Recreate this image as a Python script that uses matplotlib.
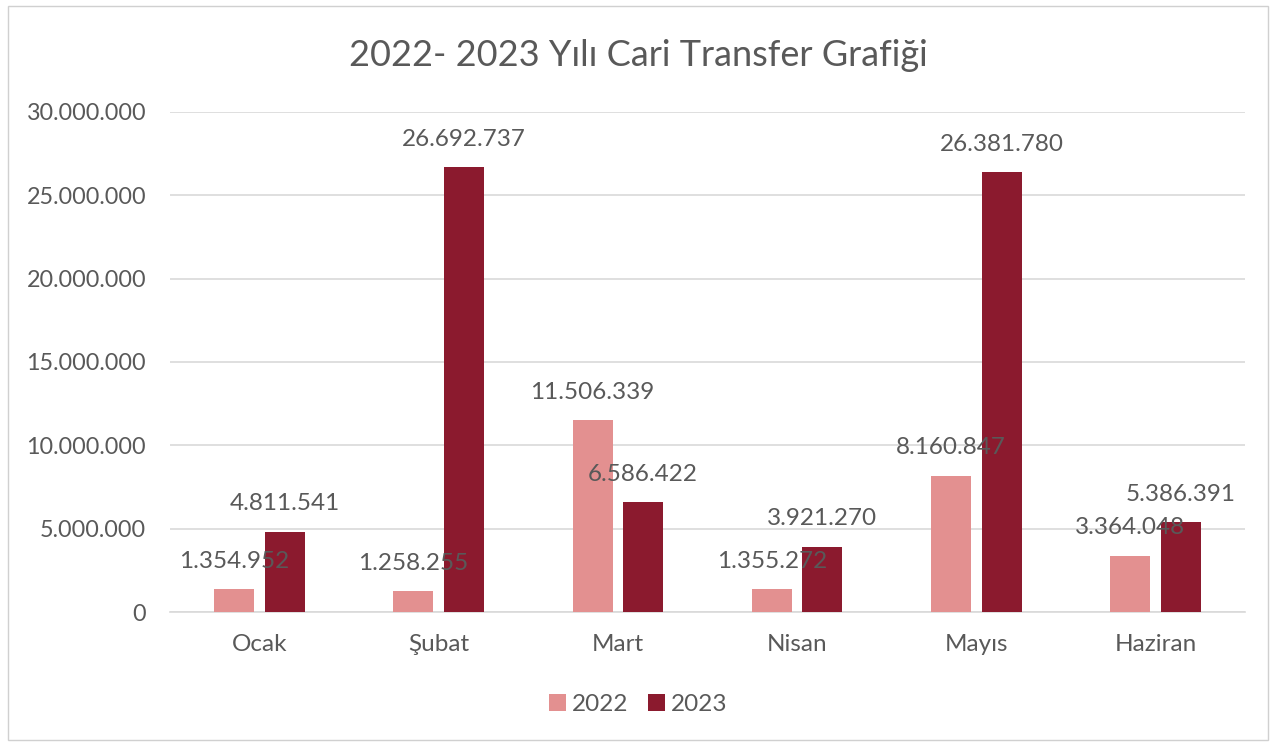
import matplotlib
matplotlib.use("Agg")
import matplotlib.pyplot as plt
import numpy as np
from matplotlib.patches import Rectangle

categories = ["Ocak", "Şubat", "Mart", "Nisan", "Mayıs", "Haziran"]
values_2022 = [1354952, 1258255, 11506339, 1355272, 8160847, 3364048]
values_2023 = [4811541, 26692737, 6586422, 3921270, 26381780, 5386391]
series_names = ["2022", "2023"]
yticks = [0, 5000000, 10000000, 15000000, 20000000, 25000000, 30000000]

c2022 = "#E39090"
c2023 = "#8B1A2E"
txt = "#595959"

plt.rcParams['font.family'] = ['Lato', 'DejaVu Sans']

def fmt(v):
    return f"{v:,}".replace(",", ".")

fig = plt.figure(figsize=(12.76, 7.46), dpi=100)
ax = fig.add_axes([0.133, 0.1796, 0.843, 0.6703])

x = np.arange(len(categories))
w = 0.223
off = 0.141
b1 = ax.bar(x - off, values_2022, w, color=c2022, label=series_names[0], zorder=3)
b2 = ax.bar(x + off, values_2023, w, color=c2023, label=series_names[1], zorder=3)

for bars, vals in ((b1, values_2022), (b2, values_2023)):
    for r, v in zip(bars, vals):
        ax.annotate(fmt(v), (r.get_x() + r.get_width() / 2, v), xytext=(0, 28),
                    textcoords="offset pixels", ha="center", va="center",
                    fontsize=17.5, color=txt, zorder=4)

ax.set_xlim(-0.5, len(categories) - 0.5)
ax.set_ylim(0, 30000000)
ax.set_yticks(yticks)
ax.set_yticklabels([fmt(v) for v in yticks], fontsize=16.8, color=txt)
ax.set_xticks(x)
ax.set_xticklabels(categories, fontsize=17.5, color=txt)
ax.tick_params(axis='x', length=0, pad=16)
ax.tick_params(axis='y', length=0, pad=17)
ax.grid(axis='y', color="#D9D9D9", linewidth=1.2, zorder=0)
for s in ["top", "right", "left"]:
    ax.spines[s].set_visible(False)
ax.spines["bottom"].set_color("#D9D9D9")
ax.spines["bottom"].set_linewidth(1.2)

fig.text(0.5, 0.925, "2022- 2023 Yılı Cari Transfer Grafiği", ha="center", va="center",
         fontsize=26, color=txt)

fig.legend(loc="center", bbox_to_anchor=(0.5, 0.055), ncol=2, frameon=False,
           fontsize=17.5, labelcolor=txt, handlelength=0.7, handleheight=0.7,
           handletextpad=0.25, columnspacing=0.8)

fig.patches.append(Rectangle((0.006, 0.008), 0.988, 0.984, transform=fig.transFigure,
                             fill=False, edgecolor="#D0D0D0", linewidth=1))

fig.savefig("out.png", dpi=100, facecolor="white")
